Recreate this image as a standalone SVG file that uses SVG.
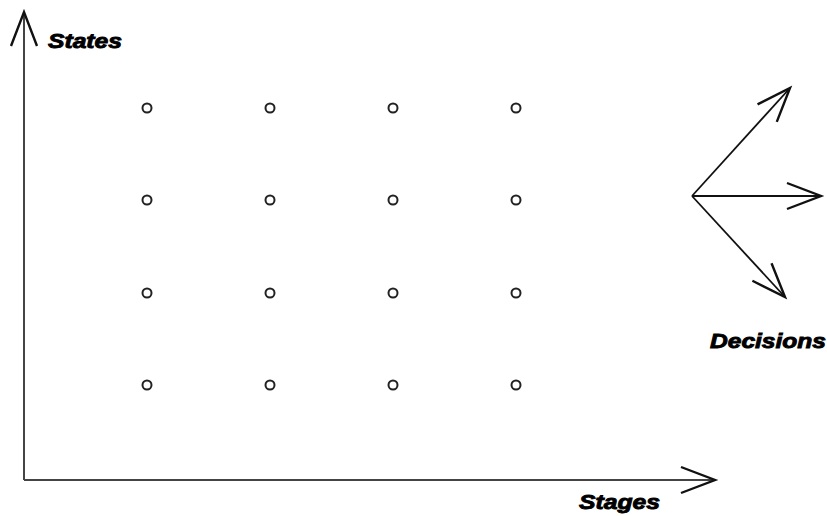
<svg xmlns="http://www.w3.org/2000/svg" width="827" height="516" viewBox="0 0 827 516">
<style>
.ax{stroke:#444;stroke-width:2;fill:none}
.ar{stroke:#111;stroke-width:1.8;fill:none}
.st{fill:none;stroke:#222;stroke-width:2}
.lb{font-family:"Liberation Sans",Arial,sans-serif;font-weight:bold;font-style:italic;font-size:21px;fill:#000;stroke:#000;stroke-width:0.9}
</style>
<defs>
<marker id="open" markerUnits="userSpaceOnUse" markerWidth="80" markerHeight="80" viewBox="-40 -40 80 80" refX="0" refY="0" orient="auto" overflow="visible">
<path d="M-34,-13 L0,0 L-34,13" fill="none" stroke="#111" stroke-width="2.4" stroke-linejoin="miter"/>
</marker>
</defs>
<rect width="827" height="516" fill="#fff"/>
<g id="connectors">
<path class="ax" d="M24,480 L24,12" marker-end="url(#open)"/>
<path class="ax" d="M24,480 L715,480" marker-end="url(#open)"/>
<path class="ar" d="M692,196 L790,88" marker-end="url(#open)"/>
<path class="ar" d="M692,196 L821,196" marker-end="url(#open)"/>
<path class="ar" d="M692,196 L785,297" marker-end="url(#open)"/>
</g>
<g id="labels">
<text class="lb" x="48" y="48" textLength="74" lengthAdjust="spacingAndGlyphs">States</text>
<text class="lb" x="579" y="509" textLength="81" lengthAdjust="spacingAndGlyphs">Stages</text>
<text class="lb" x="710" y="348" textLength="116" lengthAdjust="spacingAndGlyphs">Decisions</text>
</g>
<g id="states">
<circle class="st" cx="147" cy="108" r="4.5"/><circle class="st" cx="270" cy="108" r="4.5"/><circle class="st" cx="393" cy="108" r="4.5"/><circle class="st" cx="516" cy="108" r="4.5"/>
<circle class="st" cx="147" cy="200" r="4.5"/><circle class="st" cx="270" cy="200" r="4.5"/><circle class="st" cx="393" cy="200" r="4.5"/><circle class="st" cx="516" cy="200" r="4.5"/>
<circle class="st" cx="147" cy="293" r="4.5"/><circle class="st" cx="270" cy="293" r="4.5"/><circle class="st" cx="393" cy="293" r="4.5"/><circle class="st" cx="516" cy="293" r="4.5"/>
<circle class="st" cx="147" cy="385" r="4.5"/><circle class="st" cx="270" cy="385" r="4.5"/><circle class="st" cx="393" cy="385" r="4.5"/><circle class="st" cx="516" cy="385" r="4.5"/>
</g>
</svg>
